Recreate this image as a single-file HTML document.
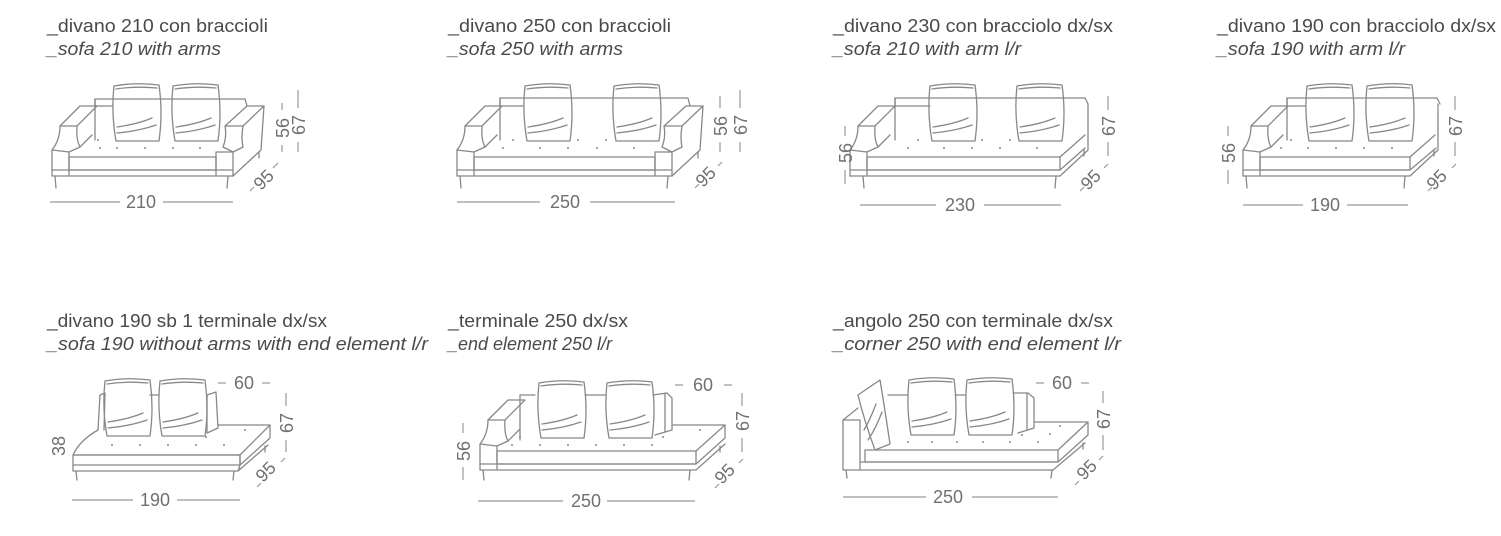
<!DOCTYPE html>
<html><head><meta charset="utf-8"><style>
html,body{margin:0;padding:0;background:#fff;}
svg{display:block}
.t{font-family:"Liberation Sans Narrow","Liberation Sans",sans-serif;font-size:18px;fill:#4a4a4a;}
.i{font-style:italic}
.d{font-family:"Liberation Sans",sans-serif;font-size:18px;fill:#707070;}
.s{fill:none;stroke:#888;stroke-width:1.3;stroke-linejoin:round;stroke-linecap:round}
.l{stroke:#999;stroke-width:1.2}
</style></head><body>
<svg width="1501" height="536" viewBox="0 0 1501 536" xmlns="http://www.w3.org/2000/svg">
<defs>
<g id="c" class="s">
<path d="M2,3 Q24,-1 47,2 Q51,30 47,58 L4,58 Q-1,30 2,3 Z"/>
<path d="M4,6 Q24,3 45,5"/>
<path d="M5,44 Q26,41 40,35 M5,50 Q27,48 44,42"/>
</g>
<g id="la" class="s">
<path d="M0,176 V150 Q8,140 8,126 L28,106 L45,106 L25,126 Q24,140 28,147 L17,152 V176"/>
<path d="M0,150 L17,152 M8,126 L25,126 M28,147 L40,135"/>
</g>
<g id="ra" class="s">
<path d="M0,176 V152 L-10,147 Q-6,137 -8,126 L14,106 L31,106 L10,126 Q8,138 10,147 L0,152 L-17,152 V176"/>
<path d="M-8,126 L10,126 M0,176 L28,150 L31,106"/>
<path d="M26,152 V158"/>
</g>
</defs>

<!-- Titles row 1 -->
<text class="t" x="47" y="32" textLength="221" lengthAdjust="spacingAndGlyphs">_divano 210 con braccioli</text>
<text class="t i" x="47" y="55" textLength="174" lengthAdjust="spacingAndGlyphs">_sofa 210 with arms</text>
<text class="t" x="448" y="32" textLength="223" lengthAdjust="spacingAndGlyphs">_divano 250 con braccioli</text>
<text class="t i" x="448" y="55" textLength="175" lengthAdjust="spacingAndGlyphs">_sofa 250 with arms</text>
<text class="t" x="833" y="32" textLength="280" lengthAdjust="spacingAndGlyphs">_divano 230 con bracciolo dx/sx</text>
<text class="t i" x="833" y="55" textLength="188" lengthAdjust="spacingAndGlyphs">_sofa 210 with arm l/r</text>
<text class="t" x="1217" y="32" textLength="279" lengthAdjust="spacingAndGlyphs">_divano 190 con bracciolo dx/sx</text>
<text class="t i" x="1217" y="55" textLength="188" lengthAdjust="spacingAndGlyphs">_sofa 190 with arm l/r</text>
<!-- Titles row 2 -->
<text class="t" x="47" y="327" textLength="280" lengthAdjust="spacingAndGlyphs">_divano 190 sb 1 terminale dx/sx</text>
<text class="t i" x="47" y="350" textLength="381" lengthAdjust="spacingAndGlyphs">_sofa 190 without arms with end element l/r</text>
<text class="t" x="448" y="327" textLength="180" lengthAdjust="spacingAndGlyphs">_terminale 250 dx/sx</text>
<text class="t i" x="448" y="350" textLength="164" lengthAdjust="spacingAndGlyphs">_end element 250 l/r</text>
<text class="t" x="833" y="327" textLength="280" lengthAdjust="spacingAndGlyphs">_angolo 250 con terminale dx/sx</text>
<text class="t i" x="833" y="350" textLength="288" lengthAdjust="spacingAndGlyphs">_corner 250 with end element  l/r</text>

<!-- Sofa 1 -->
<g class="s">
<path d="M95,106 V99 L245,99 L247,106"/>
<path d="M95,99 V140 M95,106 L112,106"/>
<rect x="69" y="157" width="147" height="13"/>
<path d="M52,170 H233 M52,176 H233"/>
<path d="M55,176 L56,188 M228,176 L227,188"/>
</g>
<use href="#la" x="52"/><use href="#ra" x="233"/>
<use href="#c" x="112" y="83"/><use href="#c" x="171" y="83"/>
<g fill="#888"><circle cx="100" cy="148" r="1"/><circle cx="117" cy="148" r="1"/><circle cx="145" cy="148" r="1"/><circle cx="173" cy="148" r="1"/><circle cx="200" cy="148" r="1"/><circle cx="98" cy="140" r="1"/></g>
<g class="l"><line x1="50" y1="202" x2="120" y2="202"/><line x1="163" y1="202" x2="233" y2="202"/>
<line x1="282" y1="103" x2="282" y2="110"/><line x1="282" y1="145" x2="282" y2="152"/>
<line x1="298" y1="90" x2="298" y2="108"/><line x1="298" y1="142" x2="298" y2="152"/>
<line x1="250" y1="191" x2="254" y2="187"/><line x1="273" y1="168" x2="278" y2="163"/></g>
<text class="d" x="141" y="208" text-anchor="middle">210</text>
<text class="d" transform="translate(289,128) rotate(-90)" text-anchor="middle">56</text>
<text class="d" transform="translate(305,125) rotate(-90)" text-anchor="middle">67</text>
<text class="d" transform="translate(268,184) rotate(-45)" text-anchor="middle">95</text>

<!-- Sofa 2 -->
<g class="s">
<path d="M500,106 V98 L688,98 L690,106"/>
<path d="M500,98 V140 M500,106 L523,106"/>
<rect x="474" y="157" width="181" height="13"/>
<path d="M457,170 H672 M457,176 H672"/>
<path d="M460,176 L461,188 M668,176 L667,188"/>
</g>
<use href="#la" x="457"/><use href="#ra" x="672"/>
<use href="#c" x="523" y="83"/><use href="#c" x="612" y="83"/>
<g fill="#888"><circle cx="503" cy="148" r="1"/><circle cx="540" cy="148" r="1"/><circle cx="568" cy="148" r="1"/><circle cx="597" cy="148" r="1"/><circle cx="634" cy="148" r="1"/><circle cx="513" cy="140" r="1"/><circle cx="578" cy="140" r="1"/><circle cx="606" cy="140" r="1"/></g>
<g class="l"><line x1="457" y1="202" x2="540" y2="202"/><line x1="590" y1="202" x2="675" y2="202"/>
<line x1="720" y1="96" x2="720" y2="108"/><line x1="720" y1="142" x2="720" y2="152"/>
<line x1="740" y1="90" x2="740" y2="108"/><line x1="740" y1="142" x2="740" y2="152"/>
<line x1="695" y1="188" x2="699" y2="184"/><line x1="718" y1="166" x2="722" y2="162"/></g>
<text class="d" x="565" y="208" text-anchor="middle">250</text>
<text class="d" transform="translate(727,126) rotate(-90)" text-anchor="middle">56</text>
<text class="d" transform="translate(747,125) rotate(-90)" text-anchor="middle">67</text>
<text class="d" transform="translate(710,181) rotate(-45)" text-anchor="middle">95</text>

<!-- Sofa 3 -->
<g class="s">
<path d="M895,106 V98 L1085,98 L1088,104"/>
<path d="M895,98 V140 M895,106 L930,106"/>
<rect x="867" y="157" width="193" height="13"/>
<path d="M850,170 H1060 M850,176 H1060 M1060,157 L1085,135 M1060,170 L1085,148 M1060,176 L1088,150 V104"/>
<path d="M863,176 L864,188 M1056,176 L1055,188 M1084,150 V156"/>
</g>
<use href="#la" x="850"/>
<use href="#c" x="928" y="83"/><use href="#c" x="1015" y="83"/>
<g fill="#888"><circle cx="908" cy="148" r="1"/><circle cx="944" cy="148" r="1"/><circle cx="972" cy="148" r="1"/><circle cx="1000" cy="148" r="1"/><circle cx="1037" cy="148" r="1"/><circle cx="918" cy="140" r="1"/><circle cx="982" cy="140" r="1"/><circle cx="1010" cy="140" r="1"/></g>
<g class="l"><line x1="860" y1="205" x2="936" y2="205"/><line x1="984" y1="205" x2="1061" y2="205"/>
<line x1="845" y1="126" x2="845" y2="136"/><line x1="845" y1="170" x2="845" y2="184"/>
<line x1="1108" y1="96" x2="1108" y2="110"/><line x1="1108" y1="142" x2="1108" y2="156"/>
<line x1="1080" y1="191" x2="1084" y2="187"/><line x1="1104" y1="168" x2="1108" y2="164"/></g>
<text class="d" x="960" y="211" text-anchor="middle">230</text>
<text class="d" transform="translate(852,153) rotate(-90)" text-anchor="middle">56</text>
<text class="d" transform="translate(1115,126) rotate(-90)" text-anchor="middle">67</text>
<text class="d" transform="translate(1095,184) rotate(-45)" text-anchor="middle">95</text>

<!-- Sofa 4 -->
<g class="s">
<path d="M1287,106 V98 L1437,98 L1440,104"/>
<path d="M1287,98 V140 M1287,106 L1305,106"/>
<rect x="1260" y="157" width="150" height="13"/>
<path d="M1243,170 H1410 M1243,176 H1410 M1410,157 L1435,135 M1410,170 L1436,148 M1410,176 L1438,150 V104"/>
<path d="M1246,176 L1247,188 M1405,176 L1404,188 M1434,150 V156"/>
</g>
<use href="#la" x="1243"/>
<use href="#c" x="1305" y="83"/><use href="#c" x="1365" y="83"/>
<g fill="#888"><circle cx="1281" cy="148" r="1"/><circle cx="1308" cy="148" r="1"/><circle cx="1336" cy="148" r="1"/><circle cx="1364" cy="148" r="1"/><circle cx="1392" cy="148" r="1"/><circle cx="1291" cy="140" r="1"/></g>
<g class="l"><line x1="1243" y1="205" x2="1303" y2="205"/><line x1="1347" y1="205" x2="1408" y2="205"/>
<line x1="1228" y1="126" x2="1228" y2="136"/><line x1="1228" y1="170" x2="1228" y2="184"/>
<line x1="1455" y1="96" x2="1455" y2="110"/><line x1="1455" y1="142" x2="1455" y2="156"/>
<line x1="1428" y1="191" x2="1432" y2="187"/><line x1="1452" y1="168" x2="1456" y2="164"/></g>
<text class="d" x="1325" y="211" text-anchor="middle">190</text>
<text class="d" transform="translate(1235,153) rotate(-90)" text-anchor="middle">56</text>
<text class="d" transform="translate(1462,126) rotate(-90)" text-anchor="middle">67</text>
<text class="d" transform="translate(1441,184) rotate(-45)" text-anchor="middle">95</text>

<!-- Sofa 5 -->
<g class="s">
<path d="M98,430 L100,395 L105,393 L104,430"/>
<path d="M207,433 V395 L216,392 L218,428 L207,433"/>
<path d="M150,395 H158"/>
<path d="M98,430 Q80,440 73,455 L240,455 L270,425 L218,425"/>
<rect x="73" y="455" width="167" height="10"/>
<path d="M73,465 V471 H238 M240,455 V465 L270,438 V425 M240,465 L238,471 L268,445"/>
<path d="M76,471 L77,480 M234,471 L233,480 M265,446 V452"/>
</g>
<use href="#c" x="103" y="378"/><use href="#c" x="158" y="378"/>
<g fill="#888"><circle cx="112" cy="445" r="1"/><circle cx="140" cy="445" r="1"/><circle cx="168" cy="445" r="1"/><circle cx="196" cy="445" r="1"/><circle cx="224" cy="445" r="1"/><circle cx="245" cy="430" r="1"/><circle cx="206" cy="437" r="1"/></g>
<g class="l"><line x1="72" y1="500" x2="133" y2="500"/><line x1="177" y1="500" x2="240" y2="500"/>
<line x1="218" y1="383" x2="226" y2="383"/><line x1="262" y1="383" x2="270" y2="383"/>
<line x1="286" y1="393" x2="286" y2="406"/><line x1="286" y1="440" x2="286" y2="452"/>
<line x1="257" y1="487" x2="261" y2="483"/><line x1="281" y1="462" x2="285" y2="458"/></g>
<text class="d" x="155" y="506" text-anchor="middle">190</text>
<text class="d" x="244" y="389" text-anchor="middle">60</text>
<text class="d" transform="translate(65,446) rotate(-90)" text-anchor="middle">38</text>
<text class="d" transform="translate(293,423) rotate(-90)" text-anchor="middle">67</text>
<text class="d" transform="translate(270,476) rotate(-45)" text-anchor="middle">95</text>

<!-- Sofa 6 -->
<g transform="translate(480,294)"><use href="#la"/></g>
<g class="s">
<path d="M520,400 V395 L535,395 M585,395 H605 M653,395 L667,393 L672,398 V430 L655,435 M665,393 V432"/>
<path d="M520,400 V440"/>
<rect x="497" y="451" width="199" height="13"/>
<path d="M480,464 H696 M480,470 H696 M696,451 L725,425 L672,425 M696,464 L725,438 V425 M696,470 L725,444"/>
<path d="M483,470 L484,480 M690,470 L689,480 M720,446 V452"/>
</g>
<use href="#c" x="537" y="380"/><use href="#c" x="605" y="380"/>
<g fill="#888"><circle cx="512" cy="445" r="1"/><circle cx="540" cy="445" r="1"/><circle cx="568" cy="445" r="1"/><circle cx="596" cy="445" r="1"/><circle cx="624" cy="445" r="1"/><circle cx="652" cy="445" r="1"/><circle cx="520" cy="437" r="1"/><circle cx="663" cy="437" r="1"/><circle cx="700" cy="430" r="1"/></g>
<g class="l"><line x1="478" y1="501" x2="563" y2="501"/><line x1="607" y1="501" x2="695" y2="501"/>
<line x1="675" y1="385" x2="683" y2="385"/><line x1="724" y1="385" x2="732" y2="385"/>
<line x1="742" y1="393" x2="742" y2="406"/><line x1="742" y1="438" x2="742" y2="452"/>
<line x1="463" y1="423" x2="463" y2="433"/><line x1="463" y1="467" x2="463" y2="480"/>
<line x1="715" y1="488" x2="719" y2="484"/><line x1="739" y1="463" x2="743" y2="459"/></g>
<text class="d" x="586" y="507" text-anchor="middle">250</text>
<text class="d" x="703" y="391" text-anchor="middle">60</text>
<text class="d" transform="translate(470,451) rotate(-90)" text-anchor="middle">56</text>
<text class="d" transform="translate(749,421) rotate(-90)" text-anchor="middle">67</text>
<text class="d" transform="translate(729,478) rotate(-45)" text-anchor="middle">95</text>

<!-- Sofa 7 -->
<g class="s">
<path d="M843,420 V470 H1053 M843,420 L860,420 V470 M843,420 L858,408"/>
<path d="M858,395 L880,380 Q885,410 890,444 L875,450 Q864,420 858,395 Z"/>
<path d="M864,430 Q870,420 876,404 M868,440 Q876,428 882,412"/>
<path d="M888,395 H907 M955,395 H965 M1013,393 L1028,393 L1034,398 V428 L1018,433 M1027,393 V430"/>
<rect x="865" y="450" width="193" height="12"/>
<path d="M860,462 H1058 M1058,450 L1088,422 L1034,422 M1058,462 L1088,435 V422 M1053,470 L1085,443"/>
<path d="M846,470 L847,478 M1052,470 L1051,478 M1083,443 V449"/>
</g>
<use href="#c" x="907" y="377"/><use href="#c" x="965" y="377"/>
<g fill="#888"><circle cx="908" cy="442" r="1"/><circle cx="932" cy="442" r="1"/><circle cx="957" cy="442" r="1"/><circle cx="983" cy="442" r="1"/><circle cx="1010" cy="442" r="1"/><circle cx="1038" cy="442" r="1"/><circle cx="1022" cy="435" r="1"/><circle cx="1050" cy="434" r="1"/><circle cx="1060" cy="426" r="1"/></g>
<g class="l"><line x1="843" y1="497" x2="926" y2="497"/><line x1="972" y1="497" x2="1058" y2="497"/>
<line x1="1036" y1="383" x2="1044" y2="383"/><line x1="1081" y1="383" x2="1089" y2="383"/>
<line x1="1103" y1="391" x2="1103" y2="403"/><line x1="1103" y1="435" x2="1103" y2="450"/>
<line x1="1075" y1="485" x2="1079" y2="481"/><line x1="1099" y1="460" x2="1103" y2="456"/></g>
<text class="d" x="948" y="503" text-anchor="middle">250</text>
<text class="d" x="1062" y="389" text-anchor="middle">60</text>
<text class="d" transform="translate(1110,419) rotate(-90)" text-anchor="middle">67</text>
<text class="d" transform="translate(1091,474) rotate(-45)" text-anchor="middle">95</text>
</svg>
</body></html>
